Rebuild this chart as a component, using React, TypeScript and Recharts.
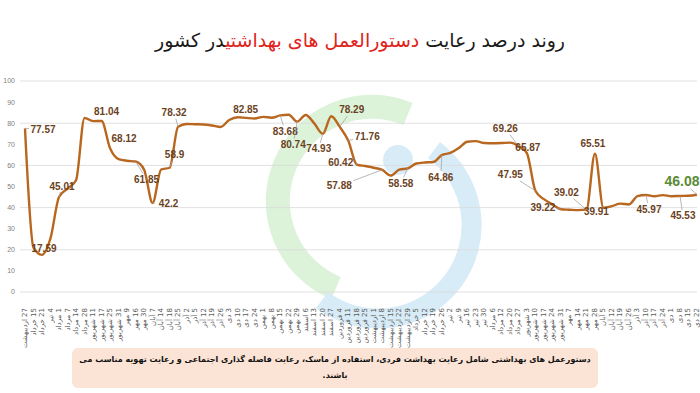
import { LineChart, Line, XAxis, YAxis, CartesianGrid } from 'recharts';

// weekly survey dates (rotated on the x axis)
const dates = [
  '27 اردیبهشت', '15 خرداد', '21 خرداد', '4 تیر', '1 مرداد', '7 مرداد', '14 مرداد', '28 مرداد',
  '11 شهریور', '17 شهریور', '25 شهریور', '31 شهریور', '9 مهر', '16 مهر', '30 مهر', '7 آبان',
  '14 آبان', '18 آبان', '25 آبان', '2 آذر', '5 آذر', '12 آذر', '19 آذر', '26 آذر',
  '3 دی', '10 دی', '17 دی', '24 دی', '1 بهمن', '8 بهمن', '15 بهمن', '22 بهمن',
  '29 بهمن', '6 اسفند', '13 اسفند', '20 اسفند', '27 اسفند', '4 فروردین', '11 فروردین', '18 فروردین',
  '25 فروردین', '1 اردیبهشت', '8 اردیبهشت', '15 اردیبهشت', '22 اردیبهشت', '29 اردیبهشت', '5 خرداد', '12 خرداد',
  '19 خرداد', '26 خرداد', '2 تیر', '9 تیر', '16 تیر', '23 تیر', '30 تیر', '6 مرداد',
  '12 مرداد', '20 مرداد', '27 مرداد', '3 شهریور', '10 شهریور', '17 شهریور', '24 شهریور', '31 شهریور',
  '7 مهر', '14 مهر', '21 مهر', '28 مهر', '5 آبان', '12 آبان', '19 آبان', '26 آبان',
  '3 آذر', '10 آذر', '17 آذر', '24 آذر', '1 دی', '8 دی', '15 دی', '22 دی',
];

// percent of compliance with health protocols
const compliance = [
  77.57, 21, 17.59, 25.5, 45.01, 49, 53, 82.5,
  81, 81.04, 68.12, 63, 62.2, 61.85, 58, 42.2,
  58, 58.9, 78.32, 79.6, 79.5, 79.4, 78.9, 78.2,
  81.5, 82.85, 82.5, 82.2, 83, 82.6, 83.68, 84,
  80.74, 83.9, 79.9, 74.93, 83.3, 78.29, 71.76, 60.42,
  59.7, 58.9, 57.88, 55.2, 58, 58.58, 60.9, 61.4,
  61.6, 64.86, 65.9, 68.3, 71.2, 71.5, 70.6, 70.5,
  70.6, 70.8, 69.26, 65.87, 47.95, 44, 41.5, 39.22,
  39, 38.8, 39.02, 65.51, 39.91, 40.7, 41.9, 41.5,
  45.4, 45.97, 45.4, 45.9, 45.4, 45.53, 45.6, 46.08,
];

const yTicks = [0, 10, 20, 30, 40, 50, 60, 70, 80, 90, 100];

const data = dates.map((d, i) => ({ date: d, value: compliance[i] }));

// where each shown value label sits relative to its point [dx, dy]
const LABEL_POS: Record<number, [number, number]> = {
  0: [18, 1], 2: [2, -6], 4: [3, -11], 9: [5, -10], 10: [14, -10], 13: [11, 18],
  15: [16, 1], 17: [5, -13], 18: [-4, -14], 25: [8, -8], 30: [5, 16], 32: [-4, 23],
  35: [-4, 15], 37: [12, -17], 38: [19, -4], 39: [-16, -2], 42: [-43, 16], 45: [-7, 15],
  49: [-1, 22], 58: [-13, -17], 59: [1, -6], 60: [-25, -16], 63: [-18, -2], 66: [-20, -17],
  67: [-2, -10], 68: [-7, 4], 73: [3, 14], 77: [3, 20], 79: [-15, -14],
};

const LINE = '#b9661f';
const LAST = data.length - 1;

const DateTick = (props: any) => {
  const { x, y, payload } = props;
  const ty = y + 8;
  return (
    <text
      x={x}
      y={ty}
      transform={`rotate(-90 ${x} ${ty})`}
      textAnchor="start"
      direction="rtl"
      dominantBaseline="central"
      fontSize={7}
      fill="#595959"
      fontFamily="DejaVu Sans, sans-serif"
    >
      {payload.value}
    </text>
  );
};

const ValueLabel = (props: any) => {
  const { x, y, value, index } = props;
  const pos = LABEL_POS[index];
  if (!pos) return <g />;
  const [dx, dy] = pos;
  const isLast = index === LAST;
  // leader line from the point to the edge of the text box
  const hw = isLast ? 18 : 14;
  const hh = isLast ? 8 : 6;
  let lead = null;
  if (Math.abs(dx) > hw || Math.abs(dy) > hh + 4) {
    const f = Math.max(
      Math.abs(dx) > hw ? (Math.abs(dx) - hw) / Math.abs(dx) : 0,
      Math.abs(dy) > hh ? (Math.abs(dy) - hh) / Math.abs(dy) : 0,
    );
    lead = <line x1={x} y1={y} x2={x + dx * f} y2={y + dy * f} stroke="#a6a6a6" strokeWidth={0.8} />;
  }
  return (
    <g>
      {lead}
      <text
        x={x + dx}
        y={y + dy}
        textAnchor="middle"
        dominantBaseline="central"
        fontSize={isLast ? 14 : 10}
        fontWeight="bold"
        fill={isLast ? '#5b8c35' : '#6b421d'}
        fontFamily="Liberation Sans, Arial, sans-serif"
      >
        {value}
      </text>
    </g>
  );
};

// faint logo behind the plot
const Watermark = () => (
  <svg width={700} height={393} style={{ position: 'absolute', left: 0, top: 0 }}>
    <path d="M 408 114 A 88 88 0 1 0 336 288" fill="none" stroke="#dcf3da" strokeWidth={24} />
    <circle cx={398} cy={160} r={15} fill="#d8ecf8" />
    <path d="M 434 150 A 84 84 0 1 1 322 300" fill="none" stroke="#d8ecf8" strokeWidth={20} />
  </svg>
);

export default function App() {
  return (
    <div style={{ position: 'absolute', left: 0, top: 0, width: 700, height: 393, background: '#fff', overflow: 'hidden' }}>
      <div
        dir="rtl"
        style={{
          position: 'absolute', left: 60, top: 29, width: 600, textAlign: 'center',
          fontFamily: 'DejaVu Sans, sans-serif', fontSize: 19, color: '#1a1a1a',
        }}
      >
        روند درصد رعایت <span style={{ color: '#e0231c' }}>دستورالعمل های بهداشتی</span>در کشور
      </div>
      <Watermark />
      <div style={{ position: 'absolute', left: 0, top: 0 }}>
        <LineChart width={700} height={393} data={data} margin={{ top: 81, right: 3, bottom: 41, left: 0 }}>
          <CartesianGrid vertical={false} stroke="#d9d9d9" strokeWidth={0.8} />
          <XAxis
            dataKey="date"
            interval={0}
            axisLine={false}
            tickLine={false}
            height={60}
            padding={{ left: 5, right: 0 }}
            tick={<DateTick />}
          />
          <YAxis
            domain={[0, 100]}
            ticks={yTicks}
            width={20}
            axisLine={false}
            tickLine={false}
            tickSize={3}
            tickMargin={2}
            tick={{ fontSize: 7, fill: '#7f7f7f', fontFamily: 'Liberation Sans, Arial, sans-serif' }}
          />
          <Line
            type="monotone"
            dataKey="value"
            stroke={LINE}
            strokeWidth={2.4}
            dot={false}
            isAnimationActive={false}
            label={<ValueLabel />}
          />
        </LineChart>
      </div>
      <div
        dir="rtl"
        style={{
          position: 'absolute', left: 72, top: 348, width: 526, height: 40, boxSizing: 'border-box',
          background: '#fbe4d6', borderRadius: 6, padding: '4px 2px', textAlign: 'center', whiteSpace: 'nowrap',
          fontFamily: 'DejaVu Sans, sans-serif', fontWeight: 'bold', fontSize: 8, lineHeight: '16px', color: '#111',
        }}
      >
        دستورعمل های بهداشتی شامل رعایت بهداشت فردی، استفاده از ماسک، رعایت فاصله گذاری اجتماعی و رعایت تهویه مناسب می
        <br />
        باشند.
      </div>
    </div>
  );
}
